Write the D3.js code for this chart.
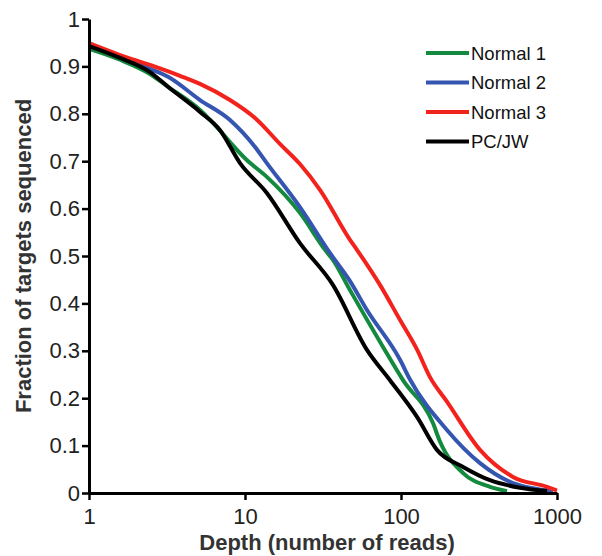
<!DOCTYPE html>
<html>
<head>
<meta charset="utf-8">
<script src="https://cdn.jsdelivr.net/npm/d3@7"></script>
<style>
  body { margin: 0; background: #fff; }
  text { font-family: "Liberation Sans", Arial, sans-serif; }
</style>
</head>
<body>
<div id="chart"></div>
<script>
// series names and colours, in legend order
var seriesNames  = ['Normal 1', 'Normal 2', 'Normal 3', 'PC/JW'];
var seriesColors = ['#138a3e', '#3556b0', '#f2231c', '#000000'];

// [depth, fraction]
var normal1 = [[1, 0.937], [1.58, 0.914], [2.46, 0.884], [3.21, 0.857], [5.15, 0.808], [5.97, 0.787],
    [10.3, 0.702], [13.8, 0.667], [22.5, 0.591], [32.6, 0.513], [36.6, 0.492], [47.1, 0.428],
    [76.7, 0.308], [103, 0.238], [160, 0.148], [178, 0.108], [250, 0.042], [372, 0.013], [478, 0.004]];
var normal2 = [[1, 0.945], [1.58, 0.920], [2.46, 0.895], [3.21, 0.878], [5.15, 0.829], [8.01, 0.787],
    [11.6, 0.730], [13.8, 0.696], [22.5, 0.603], [35.1, 0.506], [47.1, 0.447], [60.5, 0.386],
    [98.6, 0.281], [114, 0.240], [197, 0.133], [321, 0.063], [522, 0.021], [671, 0.011], [943, 0.004]];
var normal3 = [[1, 0.949], [1.58, 0.924], [2.46, 0.903], [3.83, 0.880], [5.15, 0.863], [8.01, 0.829],
    [11.6, 0.791], [16.8, 0.736], [22.5, 0.694], [30.3, 0.639], [47.1, 0.534], [52.2, 0.513],
    [73.3, 0.439], [98.6, 0.365], [127, 0.302], [153, 0.245], [197, 0.193], [321, 0.091],
    [522, 0.034], [863, 0.013], [1000, 0.005]];
var pcjw = [[1, 0.943], [1.58, 0.918], [2.46, 0.888], [3.21, 0.857], [5.15, 0.804], [6.9, 0.766],
    [9.29, 0.696], [13.8, 0.633], [22.5, 0.527], [36.6, 0.439], [60.5, 0.302], [85, 0.238],
    [127, 0.160], [170, 0.091], [250, 0.055], [372, 0.027], [579, 0.011], [863, 0.004]];
var seriesData = [normal1, normal2, normal3, pcjw];

var xTicks = [1, 10, 100, 1000];
var yTicks = [0, 0.1, 0.2, 0.3, 0.4, 0.5, 0.6, 0.7, 0.8, 0.9, 1];

var width = 602, height = 556;
var margin = { top: 19, right: 45, bottom: 63, left: 89 };

var svg = d3.select('#chart').append('svg')
    .attr('width', width)
    .attr('height', height);

var x = d3.scaleLog()
    .domain([1, 1000])
    .range([margin.left, width - margin.right]);

var y = d3.scaleLinear()
    .domain([0, 1])
    .range([height - margin.bottom, margin.top]);

// curves first, axes drawn on top
var line = d3.line()
    .curve(d3.curveMonotoneX)
    .x(d => x(d[0]))
    .y(d => y(d[1]));

svg.append('g')
    .selectAll('path')
    .data(seriesData)
    .join('path')
        .attr('d', line)
        .attr('fill', 'none')
        .attr('stroke', (d, i) => seriesColors[i])
        .attr('stroke-width', 4)
        .attr('stroke-linejoin', 'round')
;

var xAxis = svg.append('g')
    .attr('transform', 'translate(0,' + (height - margin.bottom) + ')')
    .call(d3.axisBottom(x).tickValues(xTicks).tickFormat(d3.format('d')).tickSize(7).tickSizeOuter(0));

var yAxis = svg.append('g')
    .attr('transform', 'translate(' + margin.left + ',0)')
    .call(d3.axisLeft(y).tickValues(yTicks).tickFormat(d => d === 0 || d === 1 ? d : d3.format('.1f')(d)).tickSize(7).tickSizeOuter(0));

[xAxis, yAxis].forEach(g => {
    g.select('.domain').attr('stroke', '#000').attr('stroke-width', 3);
    g.selectAll('.tick line').attr('stroke', '#000').attr('stroke-width', 2.5);
    g.selectAll('.tick text')
        .attr('fill', '#222')
        .style('font-size', '22px')
        .style('font-family', '"Liberation Sans", Arial, sans-serif');
});
xAxis.selectAll('.tick text').attr('dy', '0.95em');
yAxis.selectAll('.tick text').attr('x', -9);

svg.append('text')
    .attr('x', 327)
    .attr('y', 550)
    .attr('text-anchor', 'middle')
    .attr('font-weight', 'bold')
    .attr('font-size', 22)
    .attr('fill', '#333')
    .text('Depth (number of reads)');

svg.append('text')
    .attr('transform', 'translate(31,256) rotate(-90)')
    .attr('text-anchor', 'middle')
    .attr('font-weight', 'bold')
    .attr('font-size', 22)
    .attr('fill', '#333')
    .text('Fraction of targets sequenced');

// legend
var legend = svg.append('g')
    .attr('transform', 'translate(426,53)');

var rows = legend.selectAll('g')
    .data(seriesNames)
    .join('g')
        .attr('transform', (d, i) => 'translate(0,' + (i * 29.5) + ')');

rows.append('line')
    .attr('x1', 0).attr('x2', 43)
    .attr('stroke', (d, i) => seriesColors[i])
    .attr('stroke-width', 4);

rows.append('text')
    .attr('x', 45)
    .attr('dy', '0.36em')
    .attr('font-size', 18.5)
    .attr('fill', '#111')
    .text(d => d);
</script>
</body>
</html>
